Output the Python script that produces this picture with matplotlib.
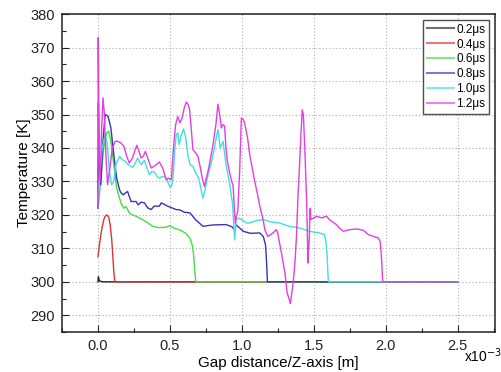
import matplotlib
matplotlib.use("Agg")
import matplotlib.pyplot as plt
from matplotlib.ticker import MultipleLocator

plt.rcParams['font.family'] = ['Liberation Sans', 'DejaVu Sans']

# x in units of 1e-3 m, temperature in K
labels = ['0.2μs', '0.4μs', '0.6μs', '0.8μs', '1.0μs', '1.2μs']
colors = ['#222222', '#d83535', '#44dd44', '#3535b5', '#44dede', '#e040e0']

x_02 = [0, 0.003, 0.01, 0.03, 2.5]
t_02 = [300, 301.5, 300.3, 300, 300]

x_04 = [0, 0.01, 0.02, 0.03, 0.04, 0.05, 0.063, 0.075, 0.085, 0.095, 0.103, 0.11, 0.118, 2.5]
t_04 = [307.5, 311, 314, 316.5, 318.5, 319.6, 320, 319.3, 317, 313, 308, 303, 300, 300]

x_06 = [0, 0.005, 0.02, 0.04, 0.06, 0.075, 0.09, 0.11, 0.13, 0.16, 0.18, 0.195, 0.22, 0.24,
        0.27, 0.31, 0.35, 0.38, 0.42, 0.47, 0.5, 0.53, 0.57, 0.61, 0.64, 0.655, 0.665,
        0.672, 0.68, 2.5]
t_06 = [333.5, 323.5, 331, 340, 344.5, 345, 342, 335, 328, 323.5, 322, 322.5, 320.5, 320,
        319.5, 318.6, 317.5, 316.6, 316.2, 316.3, 316.8, 316, 315.5, 314.5, 313, 311, 308,
        304, 300, 300]

x_08 = [0, 0.003, 0.01, 0.02, 0.035, 0.05, 0.07, 0.09, 0.11, 0.13, 0.15, 0.16, 0.175, 0.206,
        0.23, 0.265, 0.28, 0.3, 0.323, 0.346, 0.37, 0.39, 0.427, 0.44, 0.485, 0.52, 0.544,
        0.57, 0.6, 0.64, 0.68, 0.73, 0.8, 0.89, 0.93, 0.95, 0.96, 0.985, 1.01, 1.06, 1.125,
        1.15, 1.165, 1.172, 1.178, 2.5]
t_08 = [322, 353.5, 333, 329, 342, 350, 349.5, 346, 338, 331, 327.5, 326.6, 326, 327,
        324, 324, 323, 323.8, 323.6, 322.1, 321.6, 322.6, 322.6, 323.6, 322.6, 322, 321.6,
        321.5, 320.8, 320.6, 318.5, 316.6, 317, 317.1, 316.5, 315.5, 317, 316.1, 315.1, 314.5,
        314.6, 313.5, 311, 306, 300, 300]

x_10 = [0, 0.01, 0.03, 0.05, 0.065, 0.08, 0.095, 0.11, 0.125, 0.15, 0.17, 0.19, 0.21, 0.24,
        0.26, 0.276, 0.3, 0.323, 0.34, 0.358, 0.375, 0.393, 0.41, 0.427, 0.45, 0.474, 0.49,
        0.5, 0.51, 0.52, 0.535, 0.545, 0.555, 0.565, 0.58, 0.595, 0.61, 0.625, 0.64, 0.66,
        0.68, 0.7, 0.715, 0.73, 0.745, 0.76, 0.79, 0.81, 0.82, 0.834, 0.85, 0.87, 0.89, 0.91,
        0.92, 0.935, 0.95, 0.96, 0.985, 1.03, 1.055, 1.1, 1.15, 1.19, 1.26, 1.33, 1.4, 1.47,
        1.54, 1.575, 1.585, 1.593, 1.598, 1.602, 2.5]
t_10 = [324, 331, 340, 344, 341, 333, 329, 330, 335, 337.5, 336.5, 336, 335, 334.2,
        335.5, 337, 335, 336.3, 334, 332, 333, 332.8, 331.5, 331, 331.5, 331, 329.5,
        328.3, 328.5, 330, 340, 344, 344.5, 341, 344, 345.7, 343, 338, 335, 334.5,
        332.5, 331, 328, 325, 327.5, 331, 336, 340, 342.5, 345.5, 340, 342, 335, 330.5,
        328, 323.6, 312.5, 318.6, 319, 317.6, 317.6, 318.3, 318.6, 318, 317.6, 316.6, 316.1, 315.1,
        314.6, 314.1, 312, 308, 303, 300, 300]

x_12 = [0, 0.002, 0.008, 0.015, 0.025, 0.035, 0.045, 0.055, 0.067, 0.08, 0.1, 0.12, 0.137,
        0.16, 0.18, 0.2, 0.218, 0.24, 0.255, 0.27, 0.285, 0.3, 0.315, 0.33, 0.35, 0.37, 0.39,
        0.41, 0.427, 0.45, 0.474, 0.49, 0.5, 0.51, 0.525, 0.54, 0.555, 0.57, 0.585, 0.6, 0.614,
        0.627, 0.637, 0.65, 0.66, 0.68, 0.695, 0.71, 0.725, 0.74, 0.77, 0.8, 0.82, 0.834,
        0.846, 0.858, 0.87, 0.88, 0.89, 0.9, 0.916, 0.93, 0.94, 0.948, 0.955, 0.962, 0.972,
        0.985, 0.997, 1.01, 1.02, 1.04, 1.055, 1.075, 1.09, 1.11, 1.125, 1.148, 1.16, 1.18,
        1.2, 1.217, 1.24, 1.25, 1.265, 1.276, 1.29, 1.3, 1.315, 1.33, 1.338, 1.346, 1.357,
        1.37, 1.38, 1.39, 1.4, 1.41, 1.42, 1.428, 1.44, 1.45, 1.455, 1.46, 1.465, 1.47,
        1.473, 1.477, 1.48, 1.5, 1.52, 1.555, 1.59, 1.61, 1.625, 1.66, 1.68, 1.706, 1.75,
        1.8, 1.845, 1.88, 1.915, 1.95, 1.962, 1.968, 1.973, 1.977, 1.98, 2.5]
t_12 = [322, 373, 340, 330, 345, 355, 350, 338, 329, 333, 340, 342, 342,
        341.5, 340.5, 337.5, 335.5, 337, 339, 340.8, 339, 337, 337.5, 339, 336.5, 334, 334.5,
        335.2, 335.8, 334, 330.5, 331, 330.7, 330.5, 340, 347, 349.4, 347.5, 349, 352, 353.7,
        353, 351.5, 345, 339.5, 338.5, 337.5, 334.5, 331, 328.5, 334, 341, 347, 353.1,
        350, 346, 347, 346.6, 340, 336, 332.5, 330, 328.5, 322, 317.5, 319.5, 321,
        333, 349, 348.5, 347.4, 343, 338, 333.5, 330, 326, 322.6, 318.6, 315.6, 313.6,
        314.1, 314.6, 315.6, 314.6, 311, 308.6, 305, 302.7, 296.7, 294.7, 293.5, 296.2, 299.7,
        306, 313.6, 325, 333.5, 343, 351.4, 350, 337.5, 325, 316, 305.6, 310, 313.6,
        321.6, 322, 318.6, 319.1, 319.6, 319.1, 319.6, 318.5, 318.1, 317, 316, 315.1, 315.6,
        315.8, 315.4, 314.1, 313.6, 313.1, 312, 309, 306, 302, 300, 300]

series = [(x_02, t_02), (x_04, t_04), (x_06, t_06), (x_08, t_08), (x_10, t_10), (x_12, t_12)]

fig = plt.figure(figsize=(5.02, 3.72), dpi=100)
ax = fig.add_axes([0.1235, 0.1075, 0.8625, 0.8545])

for (xs, ts), lab, col in zip(series, labels, colors):
    ax.plot(xs, ts, color=col, lw=1.0, label=lab)

ax.set_xlim(-0.25, 2.76)
ax.set_ylim(285, 380)
ax.xaxis.set_major_locator(MultipleLocator(0.5))
ax.xaxis.set_minor_locator(MultipleLocator(0.25))
ax.yaxis.set_major_locator(MultipleLocator(10))
ax.yaxis.set_minor_locator(MultipleLocator(5))
ax.set_xticks([0, 0.5, 1.0, 1.5, 2.0, 2.5])
ax.set_xticklabels(['0.0', '0.5', '1.0', '1.5', '2.0', '2.5'])
ax.set_yticks(range(290, 381, 10))
ax.tick_params(which='both', direction='in', labelsize=10.5, colors='#222222')
ax.tick_params(which='major', length=5, width=0.8, pad=5)
ax.tick_params(which='minor', length=3, width=0.8)
ax.grid(True, which='major', ls=(0, (1, 2)), color='#b0b0b0', lw=0.8)
for s in ax.spines.values():
    s.set_linewidth(1.1)
    s.set_color('#222222')

ax.set_xlabel('Gap distance/Z-axis [m]', fontsize=11, labelpad=2)
ax.set_ylabel('Temperature [K]', fontsize=11)
ax.yaxis.set_label_coords(-0.072, 0.5)
fig.text(0.925, 0.045, 'x10$^{-3}$', fontsize=10, ha='left', va='center')

leg = ax.legend(loc='upper right', fontsize=8.5, frameon=True, fancybox=False,
                handlelength=2.3, handletextpad=0.2, borderpad=0.3, labelspacing=0.25,
                borderaxespad=0.5)
leg.get_frame().set_edgecolor('#222222')
leg.get_frame().set_linewidth(1.0)
for line in leg.get_lines():
    line.set_alpha(0.65)
    line.set_linewidth(1.5)

fig.savefig('out.png', dpi=100)
